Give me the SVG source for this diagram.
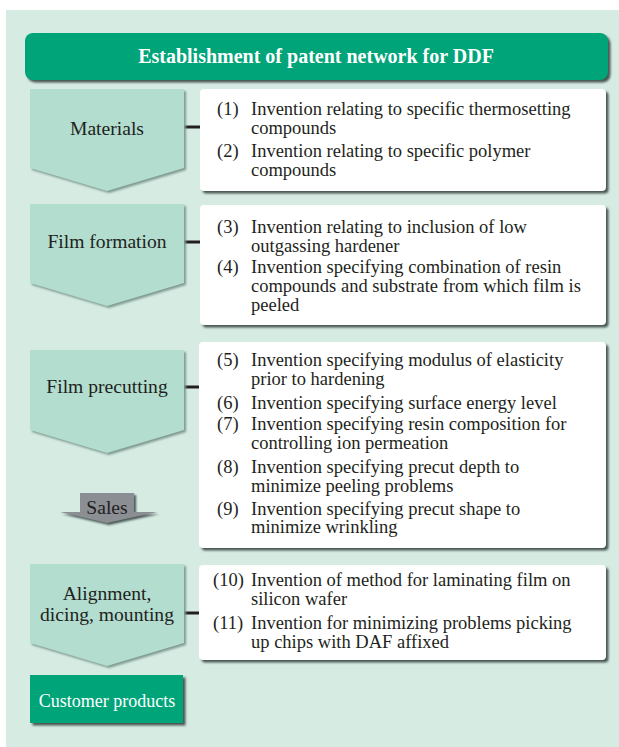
<svg xmlns="http://www.w3.org/2000/svg" width="619" height="747" viewBox="0 0 619 747">
<defs>
<style>
.lbl{font-family:"Liberation Serif","Times New Roman",serif;font-size:19.6px;fill:#231f20;text-anchor:middle}
.it{font-family:"Liberation Serif","Times New Roman",serif;font-size:18.5px;fill:#231f20}
.box{fill:#ffffff}
.arr{fill:#b2ddcf}
.sh{fill:#4a5753;filter:url(#blur)}
.ash{fill:#7f9a92;filter:url(#blur)}
.conn{stroke:#231f20;stroke-width:3;fill:none}
</style>
<filter id="blur" x="-10%" y="-10%" width="120%" height="120%"><feGaussianBlur stdDeviation="1"/></filter>
</defs>
<rect x="0" y="0" width="619" height="747" fill="#ffffff"/>
<rect x="6" y="10" width="613" height="737" fill="#d6ece3"/>

<g id="header">
<rect x="27.5" y="35.5" width="583" height="47" rx="8" class="sh"/>
<rect x="25" y="33" width="583" height="47" rx="8" fill="#00a479"/>
<text x="316" y="63" style="font-family:'Liberation Serif','Times New Roman',serif;font-size:20px;font-weight:bold;fill:#ffffff;text-anchor:middle">Establishment of patent network for DDF</text>
</g>

<g id="connectors">
<line x1="184" y1="127" x2="200" y2="127" class="conn"/>
<line x1="184" y1="242" x2="200" y2="242" class="conn"/>
<line x1="184" y1="387" x2="200" y2="387" class="conn"/>
<line x1="184" y1="613" x2="200" y2="613" class="conn"/>
</g>

<g id="materials">
<polygon points="32,91 186,91 186,170 109,193 32,170" class="ash"/>
<polygon points="30,89 184,89 184,168 107,191 30,168" class="arr"/>
<text x="107" y="134.5" class="lbl">Materials</text>
</g>

<g id="box1">
<rect x="202.5" y="91.5" width="406" height="102" rx="4" class="sh"/>
<rect x="200" y="89" width="406" height="102" rx="4" class="box"/>
<text class="it"><tspan x="217" y="115">(1)</tspan><tspan x="251" y="115">Invention relating to specific thermosetting</tspan><tspan x="251" y="133.8">compounds</tspan><tspan x="217" y="157">(2)</tspan><tspan x="251" y="157">Invention relating to specific polymer</tspan><tspan x="251" y="175.8">compounds</tspan></text>
</g>

<g id="film-formation">
<polygon points="32,206 186,206 186,285 109,308 32,285" class="ash"/>
<polygon points="30,204 184,204 184,283 107,306 30,283" class="arr"/>
<text x="107" y="248" class="lbl">Film formation</text>
</g>

<g id="box2">
<rect x="202.5" y="207.5" width="406" height="120" rx="4" class="sh"/>
<rect x="200" y="205" width="406" height="120" rx="4" class="box"/>
<text class="it"><tspan x="217" y="233">(3)</tspan><tspan x="251" y="233">Invention relating to inclusion of low</tspan><tspan x="251" y="251.8">outgassing hardener</tspan><tspan x="217" y="273.3">(4)</tspan><tspan x="251" y="273.3">Invention specifying combination of resin</tspan><tspan x="251" y="292.1">compounds and substrate from which film is</tspan><tspan x="251" y="310.9">peeled</tspan></text>
</g>

<g id="film-precutting">
<polygon points="32,352 186,352 186,432 109,455 32,432" class="ash"/>
<polygon points="30,350 184,350 184,430 107,453 30,430" class="arr"/>
<text x="107" y="393" class="lbl">Film precutting</text>
</g>

<g id="sales">
<polygon points="82,495 136,495 136,514 159,514 109,525 62,514 82,514" class="sh"/>
<polygon points="80,493 134,493 134,512 157,512 107,523 60,512 80,512" fill="#8b8e93"/>
<text x="107" y="514" class="lbl">Sales</text>
</g>

<g id="box3">
<rect x="201.5" y="344.5" width="407" height="206" rx="4" class="sh"/>
<rect x="199" y="342" width="407" height="206" rx="4" class="box"/>
<text class="it"><tspan x="217" y="366">(5)</tspan><tspan x="251" y="366">Invention specifying modulus of elasticity</tspan><tspan x="251" y="384.8">prior to hardening</tspan><tspan x="217" y="408.5">(6)</tspan><tspan x="251" y="408.5">Invention specifying surface energy level</tspan><tspan x="217" y="430">(7)</tspan><tspan x="251" y="430">Invention specifying resin composition for</tspan><tspan x="251" y="448.8">controlling ion permeation</tspan><tspan x="217" y="472.5">(8)</tspan><tspan x="251" y="472.5">Invention specifying precut depth to</tspan><tspan x="251" y="491.5">minimize peeling problems</tspan><tspan x="217" y="514.5">(9)</tspan><tspan x="251" y="514.5">Invention specifying precut shape to</tspan><tspan x="251" y="533.3">minimize wrinkling</tspan></text>
</g>

<g id="alignment">
<polygon points="32,566 186,566 186,645 109,668 32,645" class="ash"/>
<polygon points="30,564 184,564 184,643 107,666 30,643" class="arr"/>
<text class="lbl"><tspan x="107" y="600">Alignment,</tspan><tspan x="107" y="621">dicing, mounting</tspan></text>
</g>

<g id="box4">
<rect x="201.5" y="567.5" width="407" height="95" rx="4" class="sh"/>
<rect x="199" y="565" width="407" height="95" rx="4" class="box"/>
<text class="it"><tspan x="213" y="586">(10)</tspan><tspan x="251" y="586">Invention of method for laminating film on</tspan><tspan x="251" y="605">silicon wafer</tspan><tspan x="213" y="629">(11)</tspan><tspan x="251" y="629">Invention for minimizing problems picking</tspan><tspan x="251" y="648">up chips with DAF affixed</tspan></text>
</g>

<g id="customer-products">
<rect x="32.5" y="677.5" width="153" height="48" class="sh"/>
<rect x="30" y="675" width="153" height="48" fill="#00a479"/>
<text x="107" y="707" style="font-family:'Liberation Serif','Times New Roman',serif;font-size:18px;fill:#ffffff;text-anchor:middle">Customer products</text>
</g>
</svg>
